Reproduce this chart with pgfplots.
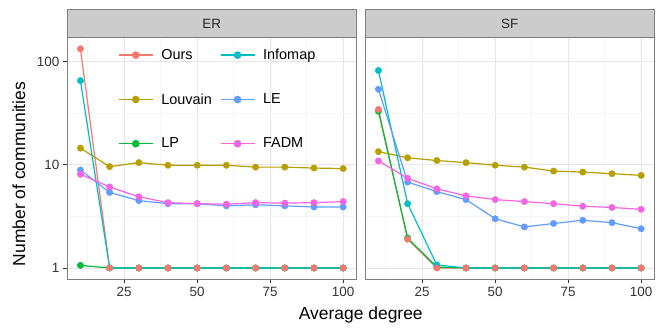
\documentclass[border=0pt]{standalone}
\usepackage{pgfplots}
\usepackage{pgfplotstable}
\pgfplotsset{compat=1.18}
\usepackage{fontspec}
\setmainfont{Liberation Sans}

\definecolor{cOurs}{HTML}{F8766D}
\definecolor{cInfomap}{HTML}{00BFC4}
\definecolor{cLouvain}{HTML}{B79F00}
\definecolor{cLE}{HTML}{619CFF}
\definecolor{cLP}{HTML}{00BA38}
\definecolor{cFADM}{HTML}{F564E3}
\definecolor{gridmajor}{HTML}{E5E5E5}
\definecolor{gridminor}{HTML}{F5F5F5}
\definecolor{border}{HTML}{7F7F7F}
\definecolor{stripfill}{HTML}{CCCCCC}

\pgfplotstableread{
x ours infomap louvain le lp fadm
10 133 65.4 14.5 8.9 1.06 8.1
20 1 1 9.6 5.4 1 6.1
30 1 1 10.5 4.5 1 4.9
40 1 1 9.9 4.2 1 4.3
50 1 1 9.9 4.2 1 4.2
60 1 1 9.9 4.0 1 4.15
70 1 1 9.5 4.1 1 4.3
80 1 1 9.5 4.0 1 4.25
90 1 1 9.3 3.9 1 4.3
100 1 1 9.2 3.9 1 4.4
}\tabER

\pgfplotstableread{
x ours infomap louvain le lp fadm
10 34.4 82 13.4 54 33 10.9
20 1.9 4.2 11.7 6.8 1.95 7.4
30 1 1.07 11.0 5.5 1.02 5.85
40 1 1 10.5 4.6 1 5.0
50 1 1 9.9 3.0 1 4.6
60 1 1 9.5 2.5 1 4.4
70 1 1 8.7 2.7 1 4.2
80 1 1 8.5 2.9 1 3.97
90 1 1 8.2 2.75 1 3.86
100 1 1 7.9 2.4 1 3.7
}\tabSF

\pgfplotsset{
  myfacet/.style={
    width=289bp, height=241.3bp, scale only axis,
    xmin=5.5, xmax=104.5, ymin=0.782, ymax=170.6,
    xtick={25,50,75,100}, ytick={1,10,100},
    minor xtick={12.5,37.5,62.5,87.5}, minor ytick={3.1623,31.623},
    grid=both,
    major grid style={draw=gridmajor, line width=0.9bp},
    minor grid style={draw=gridminor, line width=0.5bp},
    axis line style={draw=border, line width=0.9bp},
    tick align=outside, major tick length=4.5bp, minor tick length=0pt,
    xtick pos=bottom, ytick pos=left,
    tick style={draw=black!80, line width=0.8bp},
    ticklabel style={font=\fontsize{13.5}{14}\selectfont, text=black!80},
    /pgf/number format/assume math mode=true,
    clip=false,
  },
  myline/.style={draw=#1, no marks, line width=1.2bp},
  mypts/.style={color=#1, only marks, mark=*, mark size=3.2bp},
}

\begin{document}
\begin{tikzpicture}
\path[use as bounding box] (0,0) rectangle (664bp,332bp);

\begin{axis}[ymode=log, myfacet, name=ax1, at={(67.3bp,53bp)}, anchor=south west,
  yticklabels={1,10,100},
  legend columns=2,
  legend style={at={(0.165,0.97)}, anchor=north west, draw=none, fill=none,
    font=\fontsize{14.5}{15}\selectfont, row sep=28.5bp,
    /tikz/every even column/.append style={column sep=6bp}},
  legend cell align=left,
  legend image code/.code={\draw[mark repeat=2,mark phase=2,#1] plot coordinates {(0bp,0bp) (17bp,0bp) (34bp,0bp)};
    \path (40bp,0bp);},
]
\addlegendimage{cOurs, mark=*, line width=1.2bp, mark size=3.2bp}
\addlegendentry{Ours}
\addlegendimage{cInfomap, mark=*, line width=1.2bp, mark size=3.2bp}
\addlegendentry{Infomap}
\addlegendimage{cLouvain, mark=*, line width=1.2bp, mark size=3.2bp}
\addlegendentry{Louvain}
\addlegendimage{cLE, mark=*, line width=1.2bp, mark size=3.2bp}
\addlegendentry{LE}
\addlegendimage{cLP, mark=*, line width=1.2bp, mark size=3.2bp}
\addlegendentry{LP}
\addlegendimage{cFADM, mark=*, line width=1.2bp, mark size=3.2bp}
\addlegendentry{FADM}

\addplot[myline=cOurs, forget plot] table[x=x, y=ours] {\tabER};
\addplot[myline=cLouvain, forget plot] table[x=x, y=louvain] {\tabER};
\addplot[myline=cLP, forget plot] table[x=x, y=lp] {\tabER};
\addplot[myline=cInfomap, forget plot] table[x=x, y=infomap] {\tabER};
\addplot[myline=cLE, forget plot] table[x=x, y=le] {\tabER};
\addplot[myline=cFADM, forget plot] table[x=x, y=fadm] {\tabER};
\addplot[mypts=cLouvain, forget plot] table[x=x, y=louvain] {\tabER};
\addplot[mypts=cLP, forget plot] table[x=x, y=lp] {\tabER};
\addplot[mypts=cInfomap, forget plot] table[x=x, y=infomap] {\tabER};
\addplot[mypts=cLE, forget plot] table[x=x, y=le] {\tabER};
\addplot[mypts=cFADM, forget plot] table[x=x, y=fadm] {\tabER};
\addplot[mypts=cOurs, forget plot] table[x=x, y=ours] {\tabER};
\end{axis}

\begin{axis}[ymode=log, myfacet, name=ax2, at={(365.3bp,53bp)}, anchor=south west,
  yticklabels={}, ytick style={draw=none}]
\addplot[myline=cOurs] table[x=x, y=ours] {\tabSF};
\addplot[myline=cLouvain] table[x=x, y=louvain] {\tabSF};
\addplot[myline=cLP] table[x=x, y=lp] {\tabSF};
\addplot[myline=cInfomap] table[x=x, y=infomap] {\tabSF};
\addplot[myline=cLE] table[x=x, y=le] {\tabSF};
\addplot[myline=cFADM] table[x=x, y=fadm] {\tabSF};
\addplot[mypts=cLouvain] table[x=x, y=louvain] {\tabSF};
\addplot[mypts=cLP] table[x=x, y=lp] {\tabSF};
\addplot[mypts=cInfomap] table[x=x, y=infomap] {\tabSF};
\addplot[mypts=cLE] table[x=x, y=le] {\tabSF};
\addplot[mypts=cFADM] table[x=x, y=fadm] {\tabSF};
\addplot[mypts=cOurs] table[x=x, y=ours] {\tabSF};
\end{axis}

\foreach \ax/\lab in {ax1/ER, ax2/SF}{
  \draw[fill=stripfill, draw=border, line width=0.9bp] (\ax.north west) rectangle ([yshift=28.4bp]\ax.north east);
  \node[font=\fontsize{13.5}{14}\selectfont, text=black!85] at ([yshift=14.2bp]\ax.north) {\lab};
}

\node[rotate=90, anchor=base, font=\fontsize{17.5}{18}\selectfont] at (25bp,158bp) {Number of communities};
\node[anchor=base, font=\fontsize{17.5}{18}\selectfont] at (360.8bp,13bp) {Average degree};
\end{tikzpicture}
\end{document}
